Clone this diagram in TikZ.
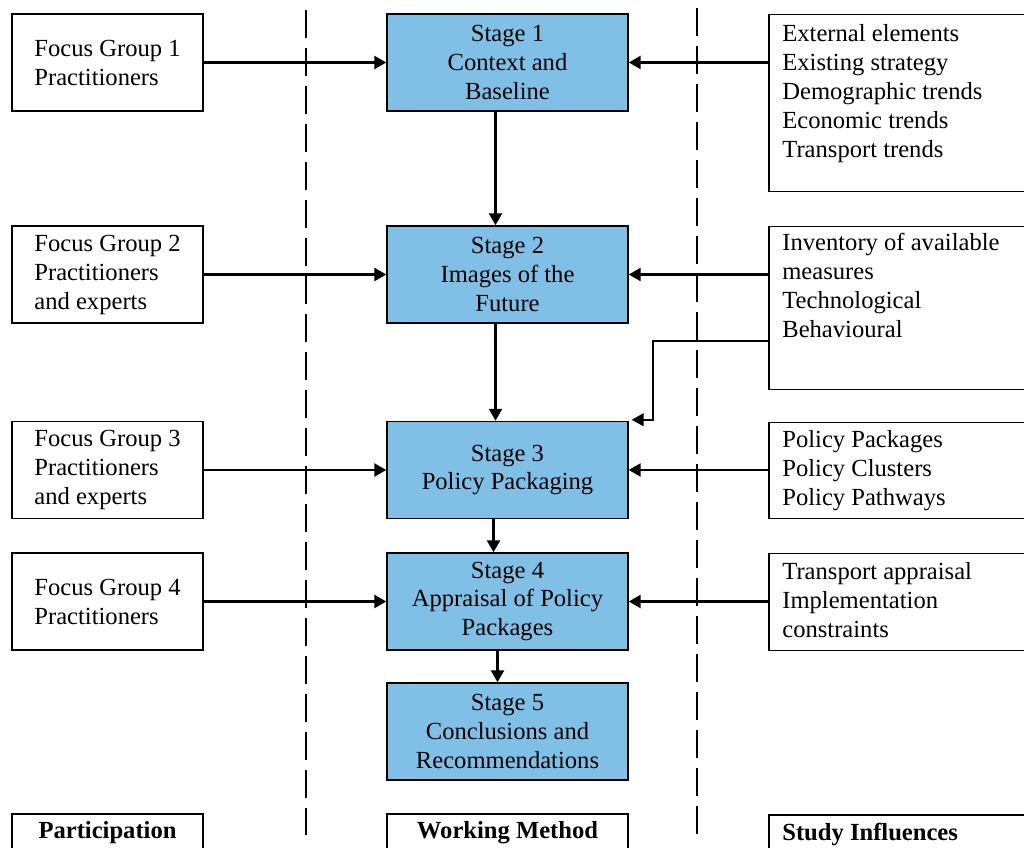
\documentclass[tikz,border=0pt]{standalone}
\usepackage{fontspec}
\setmainfont{Liberation Serif}
\usetikzlibrary{arrows.meta}
\definecolor{stageblue}{RGB}{128,192,230}

\begin{document}
\begin{tikzpicture}[x=0.02cm,y=-0.02cm]
                \tikzset{group/.style = {shape=rectangle,draw,line width=0.85pt,minimum width=3.82cm,minimum height=1.94cm,align=left,font=\fontsize{14}{16.5}\selectfont}}
                \tikzset{stage/.style = {group,fill=stageblue,minimum width=4.82cm,align=center}}
                \tikzset{influence/.style = {shape=rectangle,draw,line width=0.85pt,minimum width=6cm,anchor=north west}}
                \tikzset{infotext/.style = {anchor=north west,inner sep=0pt,align=left,font=\fontsize{14}{16.5}\selectfont}}
                \tikzset{heading/.style = {group,minimum height=0.76cm,font=\fontsize{14}{16.5}\selectfont\bfseries}}
                \tikzset{link/.style = {-{Triangle[length=2.4mm,width=2.6mm]},line width=1.4pt}}
                \tikzset{divider/.style = {line width=1.1pt,dash pattern=on 0.56cm off 0.2cm}}

                \useasboundingbox (0,0) rectangle (1024,848);
                \clip (0,0) rectangle (1024,848);

                \draw[divider] (306,10) -- (306,835);
                \draw[divider] (697,8) -- (697,835);

                \node[group] (fg1) at (107.5,62.5) {Focus Group 1\\Practitioners};
                \node[group] (fg2) at (107.5,274.5) {Focus Group 2\\Practitioners\\and experts};
                \node[group] (fg3) at (107.5,470) {Focus Group 3\\Practitioners\\and experts};
                \node[group] (fg4) at (107.5,601.5) {Focus Group 4\\Practitioners};

                \node[stage] (s1) at (507.5,62.5) {Stage 1\\Context and\\Baseline};
                \node[stage] (s2) at (507.5,274.5) {Stage 2\\Images of the\\Future};
                \node[stage] (s3) at (507.5,470) {Stage 3\\Policy Packaging};
                \node[stage] (s4) at (507.5,601.5) {Stage 4\\Appraisal of Policy\\Packages};
                \node[stage] (s5) at (507.5,731.5) {Stage 5\\Conclusions and\\Recommendations};

                \node[influence,minimum height=3.54cm] (r1) at (768,14) {};
                \node[influence,minimum height=3.26cm] (r2) at (768,226) {};
                \node[influence,minimum height=1.92cm] (r3) at (768,422) {};
                \node[influence,minimum height=1.94cm] (r4) at (768,553) {};
                \node[infotext] (r1t) at (782,24) {External elements\\Existing strategy\\Demographic trends\\Economic trends\\Transport trends};
                \node[infotext] (r2t) at (782,233) {Inventory of available\\measures\\Technological\\Behavioural};
                \node[infotext] (r3t) at (782,430) {Policy Packages\\Policy Clusters\\Policy Pathways};
                \node[infotext] (r4t) at (782,562) {Transport appraisal\\Implementation\\constraints};

                \node[heading] (part) at (107.5,833) {Participation};
                \node[heading,minimum width=4.82cm] (work) at (507.5,833) {Working Method};
                \node[influence,minimum height=0.76cm] (infl) at (768,814) {};
                \node[infotext,anchor=west,font=\fontsize{14}{16.5}\selectfont\bfseries] (inflt) at (782,834) {Study Influences};

                \coordinate (bend) at (653,341);

                \draw[link] (fg1) -- (s1);
                \draw[link] (fg2) -- (s2);
                \draw[link] (fg3) -- (s3);
                \draw[link] (fg4) -- (s4);
                \draw[link] (r1.west |- s1) -- (s1.east);
                \draw[link] (r2.west |- s2) -- (s2.east);
                \draw[link] (r3.west |- s3) -- (s3.east);
                \draw[link] (r4.west |- s4) -- (s4.east);
                \draw[link,line width=0.9pt] (r2.west |- bend) -- (bend) |- ([xshift=0.06cm,yshift=0.02cm]s3.north east);
                \draw[link] ([xshift=-0.24cm]s1.south) -- ([xshift=-0.24cm]s2.north);
                \draw[link] ([xshift=-0.24cm]s2.south) -- ([xshift=-0.24cm]s3.north);
                \draw[link] ([xshift=-0.28cm]s3.south) -- ([xshift=-0.28cm]s4.north);
                \draw[link] ([xshift=-0.2cm]s4.south) -- ([xshift=-0.2cm]s5.north);

        \end{tikzpicture}
\end{document}
